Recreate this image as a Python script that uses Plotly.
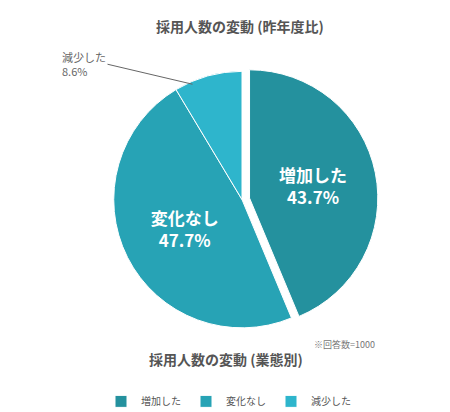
import plotly.graph_objects as go

labels = ["増加した", "変化なし", "減少した"]
values = [43.7, 47.7, 8.6]
colors = ["#24919e", "#27a3b5", "#2eb5cc"]
pulls = [0.06, 0, 0]

texts = [f"<b>{l}<br>{v}%</b>" if i < 2 else "" for i, (l, v) in enumerate(zip(labels, values))]

fig = go.Figure(go.Pie(
    labels=labels, values=values, sort=False, direction="clockwise", rotation=0,
    marker=dict(colors=colors, line=dict(color="white", width=1)),
    pull=pulls, text=texts, textinfo="text", textposition="inside",
    insidetextorientation="horizontal",
    textfont=dict(family="Noto Sans CJK JP", size=17, color="white"),
    domain=dict(x=[0.18, 0.86], y=[0.205, 0.865]),
    hoverinfo="label+percent",
))
fig.update_layout(
    width=450, height=412, margin=dict(l=0, r=0, t=0, b=0),
    paper_bgcolor="white", plot_bgcolor="white",
    font=dict(family="Noto Sans CJK JP", color="#555"),
    showlegend=True,
    legend=dict(orientation="h", x=0.49, xanchor="center", y=0.01, yanchor="bottom",
                font=dict(size=10, color="#555"), itemwidth=30, tracegroupgap=20),
    annotations=[
        dict(text="<b>採用人数の変動 (昨年度比)</b>", x=0.515, y=0.985, xref="paper", yref="paper",
             showarrow=False, font=dict(size=14, color="#555"), yanchor="top"),
        dict(text="減少した<br>8.6%", x=0.41, y=0.815, xref="paper", yref="paper",
             ax=-85, ay=-20, showarrow=True, arrowhead=0, arrowwidth=1, arrowcolor="#666",
             font=dict(size=11, color="#666"), align="left", xanchor="right"),
        dict(text="※回答数=1000", x=0.82, y=0.205, xref="paper", yref="paper",
             showarrow=False, font=dict(size=9, color="#777"), yanchor="top"),
        dict(text="<b>採用人数の変動 (業態別)</b>", x=0.485, y=0.12, xref="paper", yref="paper",
             showarrow=False, font=dict(size=14, color="#555")),
    ],
)
fig.write_html("out.html")
